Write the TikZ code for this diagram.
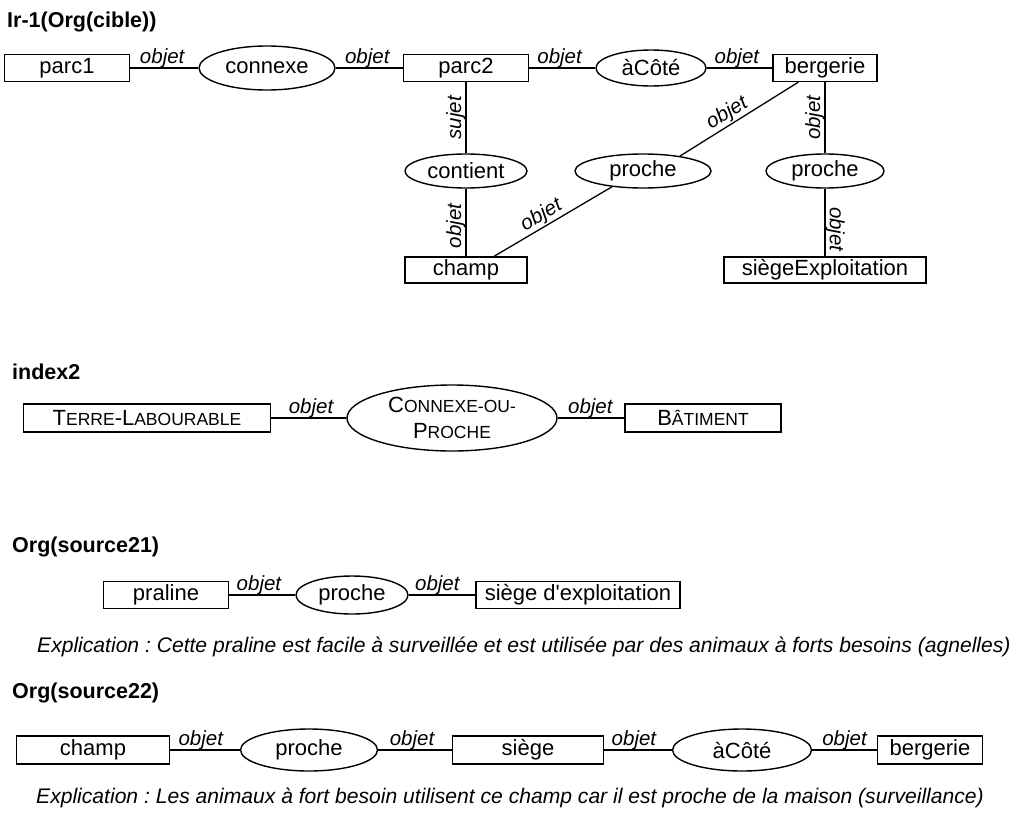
\documentclass[tikz,border=0pt]{standalone}
\usepackage{fontspec}
\setmainfont{Liberation Sans}
\usetikzlibrary{shapes.geometric}
\newcommand\sml[1]{{\fontsize{17.5}{20}\selectfont #1}}
\frenchspacing
\begin{document}
\begin{tikzpicture}[x=1pt,y=-1pt,
  every node/.style={font=\fontsize{22}{26}\selectfont},
  box/.style={draw, line width=1.4pt, rectangle, inner sep=0pt, minimum height=27pt},
  rel/.style={draw, line width=1.4pt, ellipse, inner sep=0pt},
  lab/.style={font=\fontsize{20.5}{24}\selectfont\itshape, inner sep=0pt, anchor=south},
  ttl/.style={font=\fontsize{21.5}{25}\selectfont\bfseries, anchor=west, inner sep=0pt},
  expl/.style={font=\fontsize{21.1}{25}\selectfont\itshape, anchor=base west, inner sep=0pt},
  link/.style={line width=1.3pt}]
\fill[white] (0,0) rectangle (1019,814);
\useasboundingbox (0,0) rectangle (1019,814);

% ---------- Section 1 ----------
\node[ttl] (t1) at (7,22) {Ir-1(Org(cible))};
\node[box, minimum width=125pt] (parc1) at (67,68) {parc1};
\node[rel, minimum width=136pt, minimum height=44pt] (connexe) at (267,68) {connexe};
\node[box, minimum width=125pt] (parc2) at (466,68) {parc2};
\node[rel, minimum width=110pt, minimum height=36pt] (acote1) at (651,68) {àCôté};
\node[box, minimum width=104pt] (berg1) at (825,68) {bergerie};
\node[rel, minimum width=122pt, minimum height=34pt] (contient) at (466,171) {contient};
\node[rel, minimum width=136pt, minimum height=34pt] (proche1) at (643,171) {proche};
\node[rel, minimum width=118pt, minimum height=34pt] (proche2) at (825,171) {proche};
\node[box, minimum width=122pt, minimum height=26pt] (champ1) at (466,270) {champ};
\node[box, minimum width=202pt, minimum height=26pt] (siegeE) at (825,270) {siègeExploitation};

\draw[link] (parc1) -- node[lab, pos=.47] {objet} (connexe);
\draw[link] (connexe) -- node[lab, pos=.47] {objet} (parc2);
\draw[link] (parc2) -- node[lab, pos=.46] {objet} (acote1);
\draw[link] (acote1) -- node[lab, pos=.46] {objet} (berg1);
\draw[link] (parc2) -- node[lab, rotate=90] {sujet} (contient);
\draw[link] (contient) -- node[lab, rotate=90, pos=.55] {objet} (champ1);
\draw[link] (berg1) -- node[lab, rotate=90] {objet} (proche2);
\draw[link] (proche2) -- node[lab, rotate=-90, pos=.6] {objet} (siegeE);
\draw[link] (champ1.26) -- node[lab, sloped, pos=.45, yshift=1pt] {objet} (proche1.207);
\draw[link] (proche1.22) -- node[lab, sloped, pos=.45, yshift=1pt] {objet} (berg1.208);

% ---------- Section 2 ----------
\node[ttl] (t2) at (12,372) {index2};
\node[box, minimum width=247pt, minimum height=28pt] (terre) at (147,418) {T\sml{ERRE}-L\sml{ABOURABLE}};
\node[rel, minimum width=210pt, minimum height=66pt, align=center, font=\fontsize{22}{26}\selectfont] (cop) at (452,418) {C\sml{ONNEXE-OU-}\\P\sml{ROCHE}};
\node[box, minimum width=156pt, minimum height=28pt] (bat) at (703,418) {B\sml{ÂTIMENT}};
\draw[link] (terre) -- node[lab, pos=.53] {objet} (cop);
\draw[link] (cop) -- node[lab, pos=.49] {objet} (bat);

% ---------- Section 3 ----------
\node[ttl] (t3) at (12,547) {Org(source21)};
\node[box, minimum width=125pt] (praline) at (166,595) {praline};
\node[rel, minimum width=112pt, minimum height=38pt] (proche3) at (352,595) {proche};
\node[box, minimum width=204pt] (siegeD) at (578,595) {siège d\textquotesingle exploitation};
\draw[link] (praline) -- node[lab, pos=.45] {objet} (proche3);
\draw[link] (proche3) -- node[lab, pos=.43] {objet} (siegeD);
\node[expl] (e1) at (37,652) {Explication : Cette praline est facile à surveillée et est utilisée par des animaux à forts besoins (agnelles)};

% ---------- Section 4 ----------
\node[ttl] (t4) at (12,693) {Org(source22)};
\node[box, minimum width=153pt, minimum height=28pt] (champ4) at (93,750) {champ};
\node[rel, minimum width=137pt, minimum height=42pt] (proche4) at (309,750) {proche};
\node[box, minimum width=151pt, minimum height=28pt] (siege4) at (528,750) {siège};
\node[rel, minimum width=139pt, minimum height=42pt] (acote4) at (742,750) {àCôté};
\node[box, minimum width=105pt, minimum height=28pt] (berg4) at (930,750) {bergerie};
\draw[link] (champ4) -- node[lab, pos=.44] {objet} (proche4);
\draw[link] (proche4) -- node[lab, pos=.46] {objet} (siege4);
\draw[link] (siege4) -- node[lab, pos=.44] {objet} (acote4);
\draw[link] (acote4) -- node[lab, pos=.5] {objet} (berg4);
\node[expl] (e2) at (36,803) {Explication : Les animaux à fort besoin utilisent ce champ car il est proche de la maison (surveillance)};
\end{tikzpicture}
\end{document}
